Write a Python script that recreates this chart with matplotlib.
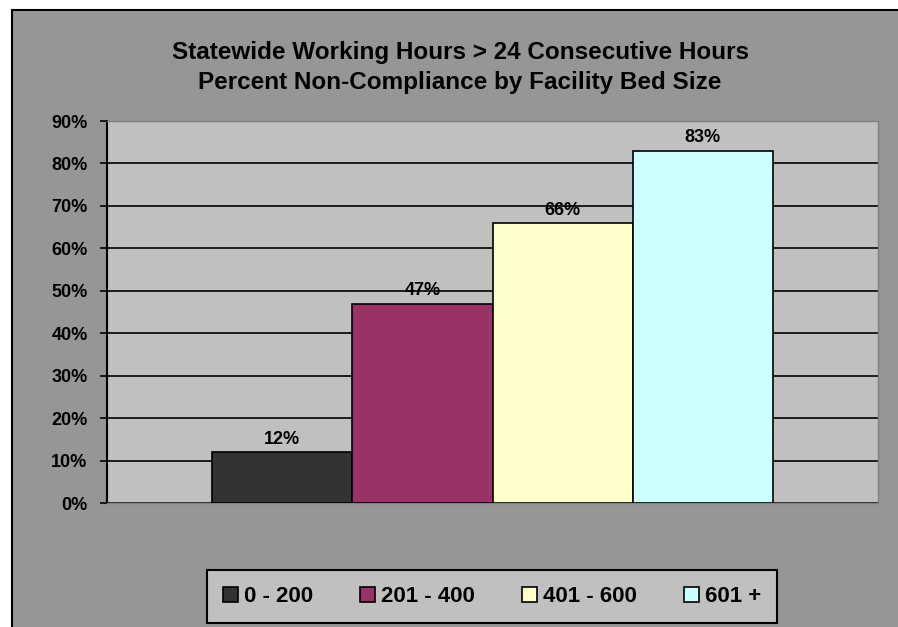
import matplotlib
matplotlib.use("Agg")
import matplotlib.pyplot as plt
from matplotlib.patches import Rectangle, Patch

# chart data
bed_sizes = ["0 - 200", "201 - 400", "401 - 600", "601 +"]
pct_noncompliance = [12, 47, 66, 83]
bar_colors = ["#333333", "#993366", "#FFFFCC", "#CCFFFF"]
y_ticks = [0, 10, 20, 30, 40, 50, 60, 70, 80, 90]

plt.rcParams['font.family'] = ['Liberation Sans', 'DejaVu Sans']
plt.rcParams['font.weight'] = 'bold'

W, H = 898, 627
fig = plt.figure(figsize=(W / 100, H / 100), dpi=100)
fig.patch.set_facecolor('white')

# chart area (gray with black border), drawn behind the axes
bg = Rectangle((12 / W, -0.05), 1.0, 1 - 10 / H + 0.05,
               transform=fig.transFigure, facecolor='#969696',
               edgecolor='black', linewidth=1.5, zorder=-10)
fig.patches.append(bg)

ax = fig.add_axes([107 / W, 1 - 503 / H, 771 / W, 382 / H])
ax.set_facecolor('#C0C0C0')

x = range(len(bed_sizes))
ax.bar(x, pct_noncompliance, width=1.0, color=bar_colors,
       edgecolor='black', linewidth=1.2, zorder=3)
for xi, v in zip(x, pct_noncompliance):
    ax.annotate(f"{v}%", (xi, v), xytext=(0, 6), textcoords='offset points',
                ha='center', va='baseline', fontsize=13, fontweight='bold',
                zorder=4)

ax.set_xlim(-1.25, 4.25)
ax.set_ylim(0, 90)
ax.set_yticks(y_ticks)
ax.set_yticklabels([f"{t}%" for t in y_ticks])
ax.set_xticks([])
ax.yaxis.grid(True, color='black', linewidth=1.2, zorder=1)
ax.set_axisbelow(True)
ax.tick_params(axis='y', direction='out', length=5, width=1.2, color='black',
               labelsize=13, pad=9)
for lbl in ax.get_yticklabels():
    lbl.set_fontweight('bold')
ax.spines['left'].set_color('black')
ax.spines['left'].set_linewidth(1.5)
for s in ['top', 'right', 'bottom']:
    ax.spines[s].set_color('#808080')
    ax.spines[s].set_linewidth(1.0)

fig.text(460 / W, 1 - 59 / H, "Statewide Working Hours > 24 Consecutive Hours",
         ha='center', va='baseline', fontsize=17.5, fontweight='bold')
fig.text(460 / W, 1 - 89 / H, "Percent Non-Compliance by Facility Bed Size",
         ha='center', va='baseline', fontsize=17.5, fontweight='bold')

handles = [Patch(facecolor=c, edgecolor='black', linewidth=1.2) for c in bar_colors]
leg = fig.legend(handles, bed_sizes, loc='center', ncol=4,
                 bbox_to_anchor=((206 + 778) / 2 / W, 1 - 596.5 / H),
                 frameon=True, fancybox=False, framealpha=1,
                 facecolor='#C0C0C0', edgecolor='black',
                 handlelength=0.68, handleheight=0.68, handletextpad=0.28,
                 columnspacing=2.1, borderpad=0.7,
                 prop={'size': 16, 'weight': 'bold'})
leg.get_frame().set_linewidth(1.5)

fig.savefig("out.png", dpi=100)
